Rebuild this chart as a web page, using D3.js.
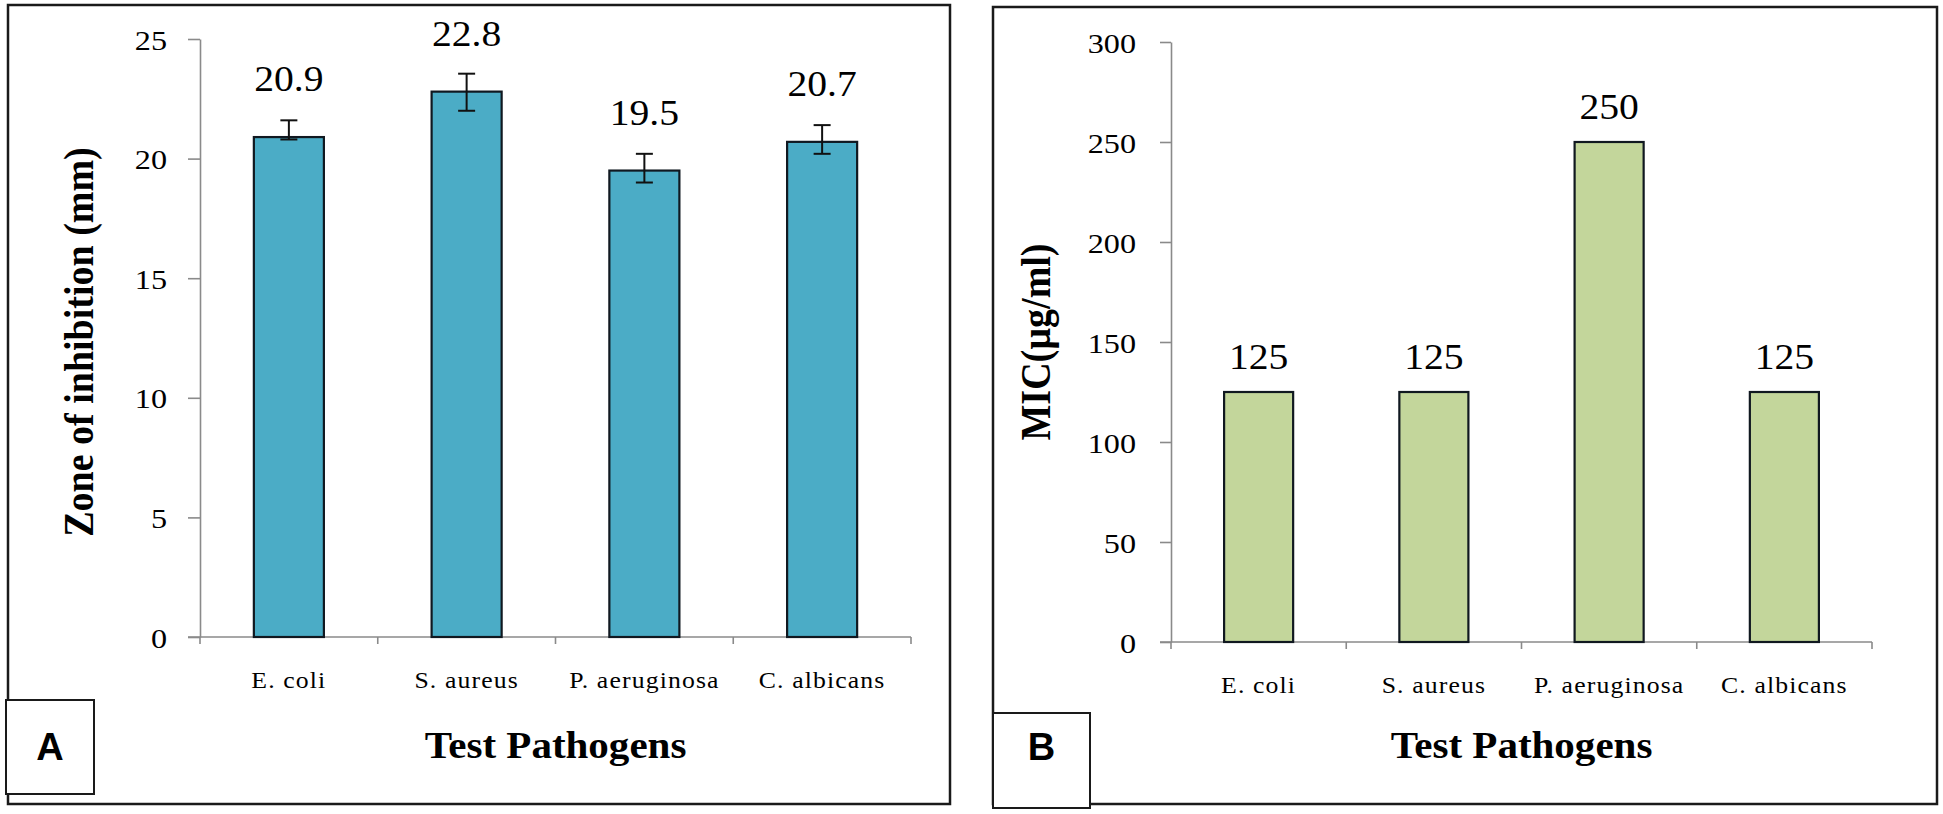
<!DOCTYPE html>
<html>
<head>
<meta charset="utf-8">
<script src="https://cdn.jsdelivr.net/npm/d3@7/dist/d3.min.js"></script>
<style>
  html, body { margin: 0; padding: 0; background: #fff; }
  svg { display: block; }
  text { font-family: "Liberation Serif", "Times New Roman", serif; fill: #000; }
</style>
</head>
<body>
<svg id="chart" width="1943" height="814"></svg>
<script>
// ---- data ----
const categories = ["E. coli", "S. aureus", "P. aeruginosa", "C. albicans"];
const zoneValues = [20.9, 22.8, 19.5, 20.7];
const zoneErrPlus = [0.7, 0.75, 0.7, 0.7];
const zoneErrMinus = [0.1, 0.8, 0.5, 0.5];
const zoneTicks = [0, 5, 10, 15, 20, 25];
const micValues = [125, 125, 250, 125];
const micTicks = [0, 50, 100, 150, 200, 250, 300];
const xTitle = "Test Pathogens";
const zoneTitle = "Zone of inhibition (mm)";
const micTitle = "MIC(µg/ml)";

const svg = d3.select("#chart");
svg.append("rect").attr("width", 1943).attr("height", 814).attr("fill", "#fff");

const AXIS = "#8a8a8a";

function stretchText(g, x, y, str, size, opts = {}) {
  const sx = opts.sx || 1.1;
  const t = g.append("text")
    .attr("transform", `translate(${x},${y}) scale(${sx},1)`)
    .attr("text-anchor", opts.anchor || "middle")
    .style("font-size", size + "px")
    .style("font-weight", opts.bold ? "bold" : "normal")
    .text(str);
  if (opts.ls) t.style("letter-spacing", opts.ls + "px");
  if (opts.family) t.style("font-family", opts.family);
  return t;
}

function panel(cfg) {
  const g = svg.append("g");
  // outer frame
  g.append("rect")
    .attr("x", cfg.frame[0]).attr("y", cfg.frame[1])
    .attr("width", cfg.frame[2] - cfg.frame[0]).attr("height", cfg.frame[3] - cfg.frame[1])
    .attr("fill", "none").attr("stroke", "#1a1a1a").attr("stroke-width", 2.5);

  const x = d3.scaleBand().domain(categories).range([cfg.x0, cfg.x1])
    .paddingInner(0.606).paddingOuter(0.303);
  const y = d3.scaleLinear().domain(cfg.domain).range([cfg.y0, cfg.yTop]);

  // y axis
  const yAxis = d3.axisLeft(y).tickValues(cfg.ticks).tickSize(cfg.tickLen).tickPadding(cfg.tickPad).tickSizeOuter(0);
  const ya = g.append("g").attr("transform", `translate(${cfg.x0},0)`).call(yAxis);
  ya.select(".domain").attr("stroke", AXIS).attr("stroke-width", 1.6);
  ya.selectAll(".tick line").attr("stroke", AXIS).attr("stroke-width", 1.6);
  ya.selectAll(".tick text")
    .attr("x", null).attr("dy", null)
    .attr("transform", `translate(${-(cfg.tickLen + cfg.tickPad)},10) scale(1.15,1)`)
    .attr("fill", "#000")
    .style("font-family", "'Liberation Serif', serif")
    .style("font-size", "28px");

  // x axis line
  g.append("line")
    .attr("x1", cfg.x0 - cfg.tickLen).attr("x2", cfg.x1)
    .attr("y1", y(0)).attr("y2", y(0))
    .attr("stroke", AXIS).attr("stroke-width", 1.6);
  // category boundary ticks
  const bounds = d3.range(categories.length + 1).map(i => cfg.x0 + i * x.step());
  g.selectAll(".xtick").data(bounds).enter().append("line")
    .attr("x1", d => d).attr("x2", d => d)
    .attr("y1", y(0)).attr("y2", y(0) + 7)
    .attr("stroke", AXIS).attr("stroke-width", 1.6);

  // bars
  g.selectAll(".bar").data(cfg.values).enter().append("rect")
    .attr("x", (d, i) => x(categories[i]))
    .attr("y", d => y(d))
    .attr("width", x.bandwidth())
    .attr("height", d => y(0) - y(d))
    .attr("fill", cfg.color)
    .attr("stroke", "#101820").attr("stroke-width", 2.2);

  // error bars
  if (cfg.errPlus) {
    cfg.values.forEach((v, i) => {
      const cx = x(categories[i]) + x.bandwidth() / 2;
      const top = y(v + cfg.errPlus[i]);
      const bot = y(v - cfg.errMinus[i]);
      g.append("line").attr("x1", cx).attr("x2", cx).attr("y1", top).attr("y2", bot)
        .attr("stroke", "#111").attr("stroke-width", 2);
      [top, bot].forEach(yy => g.append("line")
        .attr("x1", cx - 8.5).attr("x2", cx + 8.5).attr("y1", yy).attr("y2", yy)
        .attr("stroke", "#111").attr("stroke-width", 2));
    });
  }

  // value labels
  cfg.values.forEach((v, i) => {
    const cx = x(categories[i]) + x.bandwidth() / 2;
    stretchText(g, cx, y(v) - cfg.labelOffset, cfg.fmt(v), 36, { sx: 1.1 });
  });

  // category labels
  categories.forEach(c => {
    stretchText(g, x(c) + x.bandwidth() / 2, y(0) + 51, c, 23, { sx: 1.12, ls: 1 });
  });

  // x title
  stretchText(g, (cfg.x0 + cfg.x1) / 2, 758, xTitle, 38, { bold: true, sx: 1.08 });

  // y title
  g.append("text")
    .attr("transform", `translate(${cfg.yTitleX},342) rotate(-90) scale(1,1.1)`)
    .attr("text-anchor", "middle")
    .style("font-size", "38px").style("font-weight", "bold")
    .text(cfg.yTitle);

  // letter box
  const b = cfg.box;
  g.append("rect").attr("x", b[0]).attr("y", b[1]).attr("width", b[2] - b[0]).attr("height", b[3] - b[1])
    .attr("fill", "#fff").attr("stroke", "#1a1a1a").attr("stroke-width", 2);
  g.append("text")
    .attr("x", (b[0] + b[2]) / 2).attr("y", 760)
    .attr("text-anchor", "middle")
    .style("font-family", "'Liberation Sans', Arial, sans-serif")
    .style("font-size", "38px").style("font-weight", "bold")
    .text(cfg.letter);
}

panel({
  frame: [8, 5, 950, 804],
  x0: 200, x1: 911, y0: 637, yTop: 39,
  domain: [0, 25], ticks: zoneTicks, tickLen: 12, tickPad: 21,
  values: zoneValues, errPlus: zoneErrPlus, errMinus: zoneErrMinus,
  color: "#4BACC6", labelOffset: 46, fmt: d3.format(".1f"),
  yTitle: zoneTitle, yTitleX: 93,
  box: [6, 700, 94, 794], letter: "A"
});

panel({
  frame: [993, 7, 1937, 804],
  x0: 1171, x1: 1872, y0: 642, yTop: 42,
  domain: [0, 300], ticks: micTicks, tickLen: 11, tickPad: 24,
  values: micValues,
  color: "#C3D69B", labelOffset: 23, fmt: d3.format("d"),
  yTitle: micTitle, yTitleX: 1050,
  box: [993, 713, 1090, 808], letter: "B"
});
</script>
</body>
</html>
